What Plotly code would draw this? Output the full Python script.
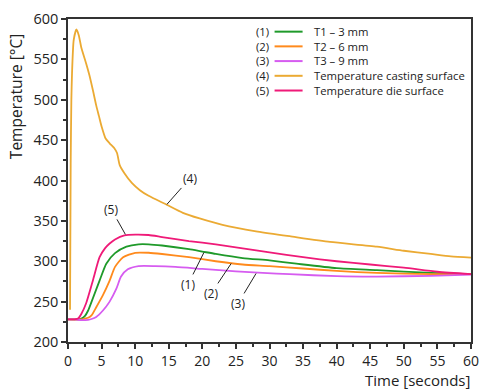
import plotly.graph_objects as go

# ---------------- data ----------------
t1_x = [0, 1.5, 2, 2.5, 3, 3.7, 4.7, 5.7, 7, 8.7, 10.5, 12, 14, 18, 20, 22, 26, 30, 34, 40, 46, 54, 60]
t1_y = [228, 228, 229, 232, 239, 254, 276, 297, 310, 318, 321, 321, 319.5, 315, 312, 309, 304, 301, 297, 291.5, 289, 285.6, 284]

t2_x = [0, 2, 2.5, 3, 3.5, 4.2, 5.2, 6.2, 7, 8.2, 10, 12, 14, 18, 22, 26, 30, 35, 40, 46, 54, 60]
t2_y = [228, 228, 229, 230, 233, 243, 258, 276, 293, 305, 310.5, 310.5, 309, 305, 300, 296, 294, 291, 288, 285.5, 284, 284]

t3_x = [0, 1, 2, 3, 3.5, 4.2, 5.2, 6.2, 7.2, 7.9, 8.9, 10.5, 13, 16, 20, 25, 29, 33, 40, 46, 54, 60]
t3_y = [228, 228, 227, 227.5, 228.5, 231, 239, 250, 266, 281, 290, 294, 294, 293, 290.5, 287.5, 285.5, 284, 281.5, 281, 282, 283.5]

cast_x = [0.3, 0.4, 0.5, 0.6, 0.85, 1.25, 1.6, 2.0, 2.7, 3.2, 3.7, 4.2, 4.6, 5.0, 5.6, 6.2, 6.9, 7.3, 7.7, 8.4, 9.5, 10.7, 12, 14.7, 17.1, 19.6, 23, 28, 33, 39, 46, 50, 54, 57, 60]
cast_y = [240, 420, 500, 533, 574, 587, 580, 564, 545, 530, 512, 493, 480, 467, 452, 446, 440, 434, 419, 409, 397, 388, 381, 370, 360, 353, 345, 337, 331, 324, 318, 313, 309, 306, 304.5]

die_x = [0, 1, 1.5, 2, 2.7, 3.7, 4.7, 5.5, 6.2, 7, 8.4, 10, 12, 14, 18, 22, 26, 30, 35, 40, 45, 50, 55, 60]
die_y = [228, 228, 229, 235, 248, 276, 305, 316, 322, 327, 332, 333, 332.5, 330, 325, 321, 316, 311, 305, 300, 296, 292, 287, 284]

names = ["T1 \u2013 3 mm", "T2 \u2013 6 mm", "T3 \u2013 9 mm",
         "Temperature casting surface", "Temperature die surface"]
tags = ["(1)", "(2)", "(3)", "(4)", "(5)"]

# leader-line anchor points on the curves (time, temperature) and label offsets
callout_x = [20.24, 24.3, 28.0, 14.73, 8.54]
callout_y = [310.9, 297.3, 284.9, 370.5, 333.3]
callout_ax = [-16, -20, -18, 23, -14]
callout_ay = [32, 30, 30, -26, -25]

colors = ["#1F9A2A", "#FF8A1C", "#D65CF0", "#EBAA33", "#EF1A78"]
FONT = "Open Sans"

series = [(t1_x, t1_y), (t2_x, t2_y), (t3_x, t3_y), (cast_x, cast_y), (die_x, die_y)]

fig = go.Figure()
for (xs, ys), nm, col in zip(series, names, colors):
    fig.add_trace(go.Scatter(x=xs, y=ys, mode="lines", name=nm, showlegend=False,
                             line=dict(color=col, width=1.8, shape="spline", smoothing=0.6)))

for tag, cx, cy, ax, ay in zip(tags, callout_x, callout_y, callout_ax, callout_ay):
    fig.add_annotation(x=cx, y=cy, xref="x", yref="y", text=tag, showarrow=True,
                       arrowhead=0, arrowwidth=1, arrowcolor="#222", ax=ax, ay=ay,
                       standoff=0, font=dict(family=FONT, size=12, color="#222"))

# compact key (tags, line samples, labels) in paper coordinates
KEY_FS = 11.3
LEG_TAG_X, LEG_X0, LEG_X1, LEG_TXT_X = 0.5027, 0.5126, 0.5821, 0.6044
LEG_YC = 0.8697                      # vertical centre of the key block
LEG_DY = KEY_FS * 1.3 / 322.4        # one text line in paper units
n = len(names)
fig.add_annotation(x=LEG_TAG_X, y=LEG_YC, xref="paper", yref="paper",
                   text="<br>".join(tags), showarrow=False, xanchor="right",
                   yanchor="middle", align="right",
                   font=dict(family=FONT, size=KEY_FS, color="#222"))
fig.add_annotation(x=LEG_TXT_X, y=LEG_YC, xref="paper", yref="paper",
                   text="<br>".join(names), showarrow=False, xanchor="left",
                   yanchor="middle", align="left",
                   font=dict(family=FONT, size=KEY_FS, color="#222"))
for i, col in enumerate(colors):
    yy = LEG_YC + ((n - 1) / 2 - i) * LEG_DY
    fig.add_shape(type="line", xref="paper", yref="paper", x0=LEG_X0, x1=LEG_X1,
                  y0=yy, y1=yy, line=dict(color=col, width=2))

fig.add_annotation(x=1, y=0, xref="paper", yref="paper", text="Time [seconds]",
                   showarrow=False, xanchor="right", yanchor="middle", yshift=-37.6,
                   borderpad=0, font=dict(family=FONT, size=15, color="#222"))
fig.add_annotation(x=-0.13, y=0.76, xref="paper", yref="paper", text="Temperature [\u00b0C]",
                   showarrow=False, textangle=-90, xanchor="center", yanchor="middle",
                   font=dict(family=FONT, size=15.5, color="#222"))

axis_common = dict(showgrid=False, zeroline=False, showline=True, linecolor="#333",
                   linewidth=1.5, mirror=True, ticks="outside", ticklen=5, tickwidth=1.5,
                   tickcolor="#333")

fig.update_xaxes(range=[0, 60], dtick=5, tick0=0,
                 tickfont=dict(family=FONT, size=14, color="#222"),
                 minor=dict(dtick=2.5, ticks="outside", ticklen=3, tickcolor="#333"),
                 **axis_common)
fig.update_yaxes(range=[200, 600], dtick=50, tick0=200,
                 tickfont=dict(family=FONT, size=14.5, color="#222"),
                 minor=dict(dtick=25, ticks="outside", ticklen=3, tickcolor="#333"),
                 **axis_common)

fig.update_layout(
    width=481, height=389,
    margin=dict(l=68, r=10, t=19, b=47, autoexpand=False),
    plot_bgcolor="white", paper_bgcolor="white",
    font=dict(family=FONT, size=13, color="#222"),
    showlegend=False,
)

fig.write_html("out.html")
